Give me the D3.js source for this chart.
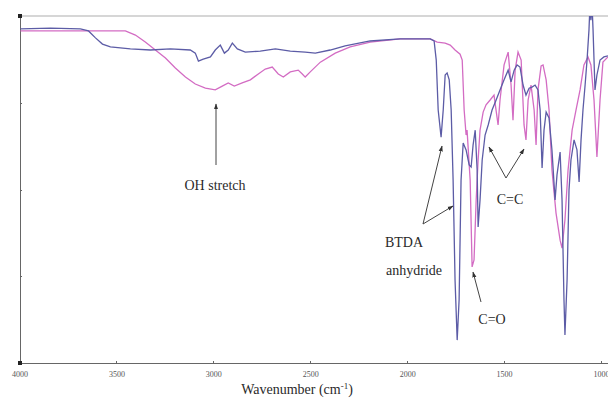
<!DOCTYPE html>
<head>
  <meta charset="utf-8">
  <style>
    body { margin: 0; background: #fff; }
    .axis path, .axis line { stroke: #666; shape-rendering: crispEdges; }
    .axis text { font-family: "Liberation Serif", "Times New Roman", serif; font-size: 8px; fill: #555; }
    .note { font-family: "Liberation Serif", "Times New Roman", serif; font-size: 14px; fill: #2a2a2a; }
  </style>
  <script src="https://cdn.jsdelivr.net/npm/d3@7"></script>
</head>
<body>
  <script>
    var w = 608;
    var h = 398;

    // wavenumber (cm-1) and transmittance (%)
    var blueWn = [3995, 3840, 3686, 3644, 3608, 3572, 3531, 3428, 3325, 3222, 3119, 3093, 3077, 3052, 3015, 2990, 2964, 2943, 2923, 2902, 2876, 2835, 2758, 2680, 2603, 2526, 2474, 2397, 2320, 2191, 2036, 1881, 1861, 1850, 1840, 1825, 1814, 1804, 1794, 1783, 1773, 1763, 1753, 1742, 1732, 1722, 1711, 1696, 1680, 1670, 1660, 1649, 1639, 1634, 1624, 1613, 1598, 1582, 1562, 1541, 1521, 1500, 1479, 1464, 1448, 1433, 1418, 1402, 1387, 1371, 1356, 1340, 1325, 1314, 1304, 1294, 1283, 1268, 1253, 1237, 1227, 1211, 1201, 1191, 1186, 1175, 1165, 1155, 1139, 1124, 1113, 1103, 1093, 1082, 1072, 1062, 1057, 1052, 1046, 1041, 1031, 1021, 1005, 985, 964];
    var blueT = [96.3, 96.5, 96.3, 95.7, 93.7, 91.9, 91.1, 90.5, 90.2, 90.5, 90.2, 89.3, 87.0, 87.6, 88.2, 90.2, 91.6, 89.3, 90.2, 92.2, 90.5, 89.6, 89.9, 90.5, 89.9, 89.6, 89.3, 90.2, 91.4, 92.8, 93.4, 93.4, 92.8, 87.3, 72.9, 65.1, 72.9, 83.0, 83.6, 81.6, 72.9, 52.7, 23.9, 6.6, 18.2, 52.7, 63.4, 61.4, 57.1, 56.5, 62.8, 67.1, 55.6, 39.2, 47.0, 58.5, 65.7, 68.6, 72.9, 75.8, 78.7, 81.6, 84.4, 81.0, 84.4, 85.9, 85.3, 80.1, 77.2, 79.2, 79.5, 80.1, 78.7, 72.9, 56.2, 67.1, 72.3, 70.6, 61.4, 47.0, 54.2, 60.8, 47.0, 18.2, 8.1, 23.9, 49.9, 58.5, 64.3, 61.4, 52.2, 64.3, 72.9, 80.1, 87.3, 96.0, 103, 98.8, 103, 96.0, 78.7, 83.0, 87.3, 88.2, 88.5];

    var pinkWn = [3995, 3789, 3582, 3454, 3402, 3351, 3299, 3247, 3196, 3144, 3093, 3041, 2990, 2954, 2923, 2892, 2851, 2809, 2768, 2732, 2696, 2665, 2639, 2603, 2562, 2541, 2526, 2500, 2448, 2371, 2294, 2191, 2036, 1881, 1845, 1804, 1778, 1753, 1727, 1716, 1706, 1696, 1691, 1675, 1665, 1655, 1644, 1634, 1624, 1608, 1593, 1572, 1552, 1531, 1521, 1500, 1479, 1464, 1454, 1443, 1428, 1412, 1397, 1387, 1376, 1361, 1345, 1335, 1325, 1309, 1299, 1283, 1268, 1253, 1232, 1211, 1201, 1186, 1170, 1149, 1129, 1108, 1088, 1067, 1052, 1036, 1021, 1005, 990, 964];
    var pinkT = [95.7, 95.7, 95.7, 95.7, 94.5, 92.5, 90.2, 87.9, 85.0, 82.4, 80.4, 79.2, 78.7, 79.8, 80.7, 79.8, 80.7, 81.6, 83.3, 84.7, 85.3, 83.3, 82.4, 83.9, 84.4, 83.3, 82.4, 83.9, 86.7, 89.3, 91.1, 92.5, 93.4, 93.4, 92.5, 92.2, 91.6, 90.2, 89.0, 87.3, 72.9, 65.7, 67.1, 52.7, 27.7, 29.7, 47.0, 58.5, 67.1, 72.3, 74.4, 75.8, 77.2, 68.6, 75.8, 85.9, 89.6, 80.1, 70.0, 84.4, 89.6, 87.3, 68.6, 64.3, 75.8, 80.1, 72.9, 62.8, 78.7, 85.6, 85.9, 81.6, 72.9, 55.6, 43.2, 35.4, 33.1, 41.2, 55.6, 67.1, 72.9, 78.7, 85.9, 88.2, 85.9, 75.8, 59.4, 75.8, 86.7, 88.2];

    var xTicks = [4000, 3500, 3000, 2500, 2000, 1500, 1000];
    var yTicks = [0, 25, 50, 75, 100];

    var xScale = d3.scaleLinear().domain([4000, 1000]).range([19.5, 601]);
    var yScale = d3.scaleLinear().domain([0, 100]).range([363, 16]);

    var svg = d3.select("body").append("svg")
      .attr("width", w)
      .attr("height", h);

    svg.append("defs").append("clipPath").attr("id", "plot")
      .append("rect")
      .attr("x", 20).attr("y", 16)
      .attr("width", w - 20).attr("height", 347);

    var marker = svg.select("defs").append("marker")
      .attr("id", "tip")
      .attr("viewBox", "0 0 10 10")
      .attr("refX", 9).attr("refY", 5)
      .attr("markerWidth", 6).attr("markerHeight", 6)
      .attr("orient", "auto");
    marker.append("path").attr("d", "M0,1.5 L10,5 L0,8.5 Z").attr("fill", "#333");

    //top frame line
    svg.append("line")
      .attr("x1", 20).attr("x2", w)
      .attr("y1", 16).attr("y2", 16)
      .attr("stroke", "#c8c8c8").attr("stroke-width", 1.5);

    //Axes
    svg.append("g")
      .attr("class", "axis")
      .attr("font-family", null)
      .attr("transform", "translate(0,363)")
      .call(d3.axisBottom(xScale).tickValues(xTicks).tickSize(-2).tickPadding(8).tickFormat(d3.format("d")))
      .call(function(g) { g.select(".domain").attr("d", "M20,0H" + w); });

    svg.append("g")
      .attr("class", "axis")
      .attr("transform", "translate(20,0)")
      .call(d3.axisRight(yScale).tickValues(yTicks).tickSize(2).tickFormat(""))
      .call(function(g) { g.select(".domain").attr("stroke", "#444").attr("stroke-width", 1.5); });

    svg.selectAll("rect.corner")
      .data([16, 363])
      .enter().append("rect")
      .attr("class", "corner")
      .attr("x", 18).attr("y", function(d) { return d - 2; })
      .attr("width", 4).attr("height", 4)
      .attr("fill", "#222");

    //Spectra
    var line = d3.line()
      .x(function(d) { return xScale(d[0]); })
      .y(function(d) { return yScale(d[1]); });

    var plot = svg.append("g").attr("clip-path", "url(#plot)");

    plot.append("path")
      .datum(pinkWn.map(function(d, i) { return [d, pinkT[i]]; }))
      .attr("d", line)
      .attr("fill", "none")
      .attr("stroke", "#d36cc3")
      .attr("stroke-width", 1.3);

    plot.append("path")
      .datum(blueWn.map(function(d, i) { return [d, blueT[i]]; }))
      .attr("d", line)
      .attr("fill", "none")
      .attr("stroke", "#5c5ca6")
      .attr("stroke-width", 1.3);

    //Annotations
    var notes = [
      { t: "OH stretch", x: 215, y: 190 },
      { t: "BTDA", x: 404, y: 247 },
      { t: "anhydride", x: 414, y: 275 },
      { t: "C=C", x: 510, y: 204 },
      { t: "C=O", x: 492, y: 324 }
    ];
    svg.selectAll("text.note")
      .data(notes)
      .enter().append("text")
      .attr("class", "note")
      .attr("text-anchor", "middle")
      .attr("x", function(d) { return d.x; })
      .attr("y", function(d) { return d.y; })
      .text(function(d) { return d.t; });

    var arrows = [
      [216, 165, 216, 104],
      [423, 224, 442, 146],
      [423, 224, 453, 206],
      [506, 178, 489, 147],
      [506, 178, 524, 149],
      [481, 302, 473, 272]
    ];
    svg.selectAll("line.arrow")
      .data(arrows)
      .enter().append("line")
      .attr("class", "arrow")
      .attr("x1", function(d) { return d[0]; })
      .attr("y1", function(d) { return d[1]; })
      .attr("x2", function(d) { return d[2]; })
      .attr("y2", function(d) { return d[3]; })
      .attr("stroke", "#444")
      .attr("stroke-width", 1)
      .attr("marker-end", "url(#tip)");

    var title = svg.append("text")
      .attr("class", "note")
      .attr("text-anchor", "middle")
      .attr("x", 297)
      .attr("y", 394);
    title.append("tspan").text("Wavenumber (cm");
    title.append("tspan").attr("font-size", "9px").attr("dy", -5).text("-1");
    title.append("tspan").attr("dy", 5).text(")");
  </script>
</body>
